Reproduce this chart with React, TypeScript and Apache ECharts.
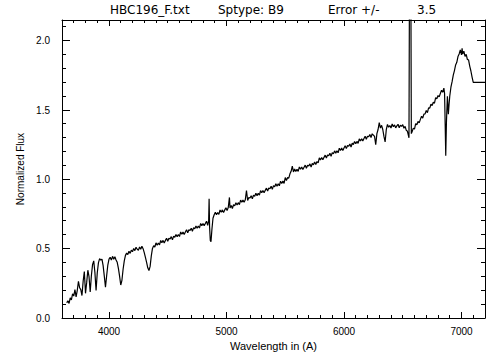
import React, { useEffect, useRef } from "react";
import * as echarts from "echarts";

// Spectrum: [wavelength (A), normalized flux]
const balmerRegion: number[][] = [
  [3640, 0.11], [3650, 0.125], [3660, 0.105], [3670, 0.145], [3680, 0.13], [3690, 0.175], [3700, 0.158], [3710, 0.205], [3720, 0.152], [3730, 0.2],
  [3740, 0.265], [3750, 0.218], [3760, 0.205], [3770, 0.162], [3780, 0.265], [3790, 0.335], [3800, 0.178], [3810, 0.255], [3820, 0.345], [3830, 0.298],
  [3840, 0.188], [3850, 0.305], [3860, 0.385], [3870, 0.412], [3880, 0.328], [3890, 0.198], [3900, 0.325], [3910, 0.398], [3920, 0.428], [3930, 0.418],
  [3940, 0.425], [3950, 0.378], [3960, 0.302], [3970, 0.222], [3980, 0.305], [3990, 0.382], [4000, 0.425], [4010, 0.438], [4020, 0.418], [4030, 0.445],
  [4040, 0.424], [4050, 0.442], [4060, 0.418], [4070, 0.402], [4080, 0.358], [4090, 0.302], [4100, 0.238], [4110, 0.272], [4120, 0.352], [4130, 0.412],
  [4140, 0.452], [4150, 0.468], [4160, 0.458], [4170, 0.482], [4180, 0.466], [4190, 0.49], [4200, 0.478], [4210, 0.502], [4220, 0.486], [4230, 0.51],
  [4240, 0.497], [4250, 0.488], [4260, 0.512], [4270, 0.496], [4280, 0.518], [4290, 0.5], [4300, 0.472], [4310, 0.438], [4320, 0.402], [4330, 0.362],
  [4340, 0.342], [4350, 0.372], [4360, 0.448], [4370, 0.502], [4380, 0.522], [4390, 0.512],
];

const blueGreenRegion: number[][] = [
  [4400, 0.542], [4410, 0.525], [4420, 0.541], [4430, 0.527], [4440, 0.559], [4450, 0.543], [4460, 0.56], [4470, 0.542], [4480, 0.56], [4490, 0.575],
  [4500, 0.554], [4510, 0.576], [4520, 0.57], [4530, 0.587], [4540, 0.564], [4550, 0.591], [4560, 0.582], [4570, 0.603], [4580, 0.586], [4590, 0.602],
  [4600, 0.588], [4610, 0.621], [4620, 0.604], [4630, 0.621], [4640, 0.603], [4650, 0.621], [4660, 0.637], [4670, 0.615], [4680, 0.637], [4690, 0.631],
  [4700, 0.648], [4710, 0.626], [4720, 0.652], [4730, 0.643], [4740, 0.664], [4750, 0.647], [4760, 0.664], [4770, 0.649], [4780, 0.682], [4790, 0.665],
  [4800, 0.682], [4810, 0.665], [4820, 0.682], [4830, 0.698], [4840, 0.668], [4848, 0.7], [4852, 0.86], [4856, 0.66], [4862, 0.56], [4868, 0.55],
  [4876, 0.64], [4885, 0.72], [4895, 0.745], [4905, 0.762], [4915, 0.745], [4925, 0.761], [4935, 0.747], [4945, 0.779], [4955, 0.763], [4965, 0.78],
  [4975, 0.762], [4985, 0.78], [4995, 0.795], [5005, 0.775], [5015, 0.797], [5025, 0.87], [5030, 0.794], [5040, 0.811], [5050, 0.79], [5060, 0.817],
  [5070, 0.809], [5080, 0.831], [5090, 0.815], [5100, 0.832], [5110, 0.818], [5120, 0.851], [5130, 0.835], [5140, 0.852], [5150, 0.835], [5160, 0.853],
  [5170, 0.92], [5180, 0.848], [5190, 0.87], [5200, 0.865], [5210, 0.882], [5220, 0.86], [5230, 0.887], [5240, 0.878], [5250, 0.9], [5260, 0.883],
  [5270, 0.9], [5280, 0.886], [5290, 0.919], [5300, 0.903], [5310, 0.92], [5320, 0.903], [5330, 0.921], [5340, 0.937], [5350, 0.916], [5360, 0.938],
  [5370, 0.933], [5380, 0.95], [5390, 0.928], [5400, 0.955], [5410, 0.946], [5420, 0.968], [5430, 0.951], [5440, 0.968], [5450, 0.954], [5460, 0.987],
  [5470, 0.971], [5480, 0.988], [5490, 0.971],
];

const redRegion: number[][] = [
  [5500, 1.013], [5510, 0.992], [5520, 1.014], [5530, 1.009], [5540, 1.04], [5550, 1.058], [5560, 1.095], [5570, 1.054], [5580, 1.075], [5590, 1.057],
  [5600, 1.073], [5610, 1.058], [5620, 1.09], [5630, 1.073], [5640, 1.089], [5650, 1.071], [5660, 1.088], [5670, 1.103], [5680, 1.081], [5690, 1.102],
  [5700, 1.096], [5710, 1.112], [5720, 1.089], [5730, 1.115], [5740, 1.105], [5750, 1.126], [5760, 1.108], [5770, 1.129], [5780, 1.119], [5790, 1.155],
  [5800, 1.14], [5810, 1.158], [5820, 1.141], [5830, 1.159], [5840, 1.175], [5850, 1.154], [5860, 1.176], [5870, 1.171], [5880, 1.188], [5890, 1.166],
  [5900, 1.193], [5910, 1.184], [5920, 1.206], [5930, 1.189], [5940, 1.206], [5950, 1.192], [5960, 1.225], [5970, 1.209], [5980, 1.226], [5990, 1.209],
  [6000, 1.227], [6010, 1.243], [6020, 1.222], [6030, 1.244], [6040, 1.239], [6050, 1.256], [6060, 1.234], [6070, 1.261], [6080, 1.252], [6090, 1.274],
  [6100, 1.257], [6110, 1.274], [6120, 1.26], [6130, 1.293], [6140, 1.277], [6150, 1.294], [6160, 1.277], [6170, 1.295], [6180, 1.311], [6190, 1.29],
  [6200, 1.312], [6210, 1.307], [6220, 1.324], [6230, 1.302], [6240, 1.329], [6250, 1.32], [6260, 1.31], [6270, 1.25], [6280, 1.33], [6290, 1.36],
  [6300, 1.41], [6310, 1.37], [6320, 1.39], [6330, 1.36], [6340, 1.31], [6350, 1.27], [6360, 1.36], [6370, 1.397], [6380, 1.376], [6390, 1.389],
  [6400, 1.371], [6410, 1.4], [6420, 1.38], [6430, 1.393], [6440, 1.372], [6450, 1.386], [6460, 1.398], [6470, 1.373], [6480, 1.391], [6490, 1.382],
  [6500, 1.395], [6510, 1.369], [6520, 1.382], [6530, 1.354], [6540, 1.347], [6553, 1.3], [6563, 4.0], [6573, 1.33], [6580, 1.346], [6590, 1.37],
  [6600, 1.363], [6610, 1.403], [6620, 1.394], [6630, 1.418], [6640, 1.408], [6650, 1.433], [6660, 1.456], [6670, 1.442], [6680, 1.471], [6690, 1.473],
  [6700, 1.497], [6710, 1.482], [6720, 1.516], [6730, 1.514], [6740, 1.543], [6750, 1.533], [6760, 1.557], [6770, 1.55], [6780, 1.59], [6790, 1.581],
  [6800, 1.605], [6810, 1.595], [6820, 1.62], [6830, 1.643], [6840, 1.629], [6850, 1.658], [6856, 1.62], [6861, 1.4], [6866, 1.17], [6872, 1.42],
  [6880, 1.6], [6888, 1.47], [6895, 1.55], [6900, 1.6], [6910, 1.665], [6920, 1.705], [6930, 1.752], [6940, 1.785], [6950, 1.826], [6960, 1.845],
  [6970, 1.886], [6980, 1.905], [6990, 1.935], [7000, 1.898], [7005, 1.945], [7010, 1.905], [7020, 1.925], [7030, 1.888], [7040, 1.902], [7050, 1.865],
  [7060, 1.862], [7070, 1.818], [7080, 1.782], [7090, 1.738], [7100, 1.7], [7200, 1.7],
];

const xMajorTicks = [4000, 5000, 6000, 7000];
const xMinorTicks = [
  3700, 3800, 3900, 4100, 4200, 4300, 4400, 4500, 4600, 4700, 4800, 4900,
  5100, 5200, 5300, 5400, 5500, 5600, 5700, 5800, 5900,
  6100, 6200, 6300, 6400, 6500, 6600, 6700, 6800, 6900, 7100,
];
const yMajorTicks = [0, 0.5, 1.0, 1.5, 2.0];
const yMinorTicks = [
  0.1, 0.2, 0.3, 0.4, 0.6, 0.7, 0.8, 0.9, 1.1, 1.2, 1.3, 1.4, 1.6, 1.7, 1.8, 1.9, 2.1,
];

const titleParts = [
  { text: "HBC196_F.txt", left: 110 },
  { text: "Sptype: B9", left: 218 },
  { text: "Error +/-", left: 328 },
  { text: "3.5", left: 417 },
];

const X_MIN = 3600;
const X_MAX = 7200;
const Y_MIN = 0;
const Y_MAX = 2.15;

const FONT = "Liberation Sans";
const BLACK = "#000";

const crisp = (v: number) => Math.round(v - 0.5) + 0.5;

export default function App() {
  const ref = useRef<HTMLDivElement>(null);

  useEffect(() => {
    document.body.style.margin = "0";
    if (!ref.current) return;
    const chart = echarts.init(ref.current, undefined, { renderer: "svg" });

    const option: any = {
      animation: false,
      grid: { left: 62, right: 19, top: 20, bottom: 42 },
      title: titleParts.map((p) => ({
        text: p.text,
        left: p.left,
        top: 4,
        padding: 0,
        textStyle: { fontFamily: "DejaVu Sans", fontSize: 12, fontWeight: "normal", color: BLACK },
      })),
      xAxis: [
        {
          type: "value",
          position: "bottom",
          min: X_MIN,
          max: X_MAX,
          splitLine: { show: false },
          axisLine: { show: true, onZero: false, lineStyle: { color: BLACK } },
          axisTick: { show: false },
          axisLabel: {
            customValues: xMajorTicks,
            margin: 8,
            formatter: (v: number) => String(v),
            color: BLACK,
            fontFamily: FONT,
            fontSize: 10,
          },
          name: "Wavelength in (A)",
          nameLocation: "middle",
          nameGap: 20,
          nameTextStyle: { color: BLACK, fontFamily: FONT, fontSize: 11 },
        },
        {
          type: "value",
          position: "top",
          min: X_MIN,
          max: X_MAX,
          splitLine: { show: false },
          axisLine: { show: true, onZero: false, lineStyle: { color: BLACK } },
          axisTick: { show: false },
          axisLabel: { show: false },
        },
      ],
      yAxis: [
        {
          type: "value",
          position: "left",
          min: Y_MIN,
          max: Y_MAX,
          splitLine: { show: false },
          axisLine: { show: true, onZero: false, lineStyle: { color: BLACK } },
          axisTick: { show: false },
          axisLabel: {
            customValues: yMajorTicks,
            margin: 12,
            formatter: (v: number) => v.toFixed(1),
            color: BLACK,
            fontFamily: FONT,
            fontSize: 10,
          },
          name: "Normalized Flux",
          nameLocation: "middle",
          nameGap: 25,
          nameTextStyle: { color: BLACK, fontFamily: FONT, fontSize: 10 },
        },
        {
          type: "value",
          position: "right",
          min: Y_MIN,
          max: Y_MAX,
          splitLine: { show: false },
          axisLine: { show: true, onZero: false, lineStyle: { color: BLACK } },
          axisTick: { show: false },
          axisLabel: { show: false },
        },
      ],
      series: [
        {
          type: "line",
          data: [...balmerRegion, ...blueGreenRegion, ...redRegion],
          showSymbol: false,
          lineStyle: { color: BLACK, width: 1.2 },
        },
      ],
    };

    chart.setOption(option);

    // Tick marks placed with the chart's own scales (convertToPixel), drawn inward on all four sides.
    const toPx = (x: number, y: number) => chart.convertToPixel({ seriesIndex: 0 }, [x, y]) as number[];
    const tickEls: any[] = [];
    const st = { stroke: BLACK, lineWidth: 1 };
    const addX = (vals: number[], len: number) => {
      vals.forEach((v) => {
        const b = toPx(v, Y_MIN);
        const t = toPx(v, Y_MAX);
        if (!b || !t) return;
        const x = crisp(b[0]);
        tickEls.push({ type: "line", silent: true, z: 50, shape: { x1: x, y1: b[1], x2: x, y2: b[1] - len }, style: st });
        tickEls.push({ type: "line", silent: true, z: 50, shape: { x1: x, y1: t[1], x2: x, y2: t[1] + len }, style: st });
      });
    };
    const addY = (vals: number[], len: number) => {
      vals.forEach((v) => {
        const l = toPx(X_MIN, v);
        const r = toPx(X_MAX, v);
        if (!l || !r) return;
        const y = crisp(l[1]);
        tickEls.push({ type: "line", silent: true, z: 50, shape: { x1: l[0], y1: y, x2: l[0] + len, y2: y }, style: st });
        tickEls.push({ type: "line", silent: true, z: 50, shape: { x1: r[0], y1: y, x2: r[0] - len, y2: y }, style: st });
      });
    };
    addX(xMajorTicks, 6);
    addX(xMinorTicks, 3);
    addY(yMajorTicks, 8);
    addY(yMinorTicks, 4);
    chart.setOption({ graphic: { elements: tickEls } });

    return () => chart.dispose();
  }, []);

  return <div ref={ref} style={{ width: 504, height: 360 }} />;
}
